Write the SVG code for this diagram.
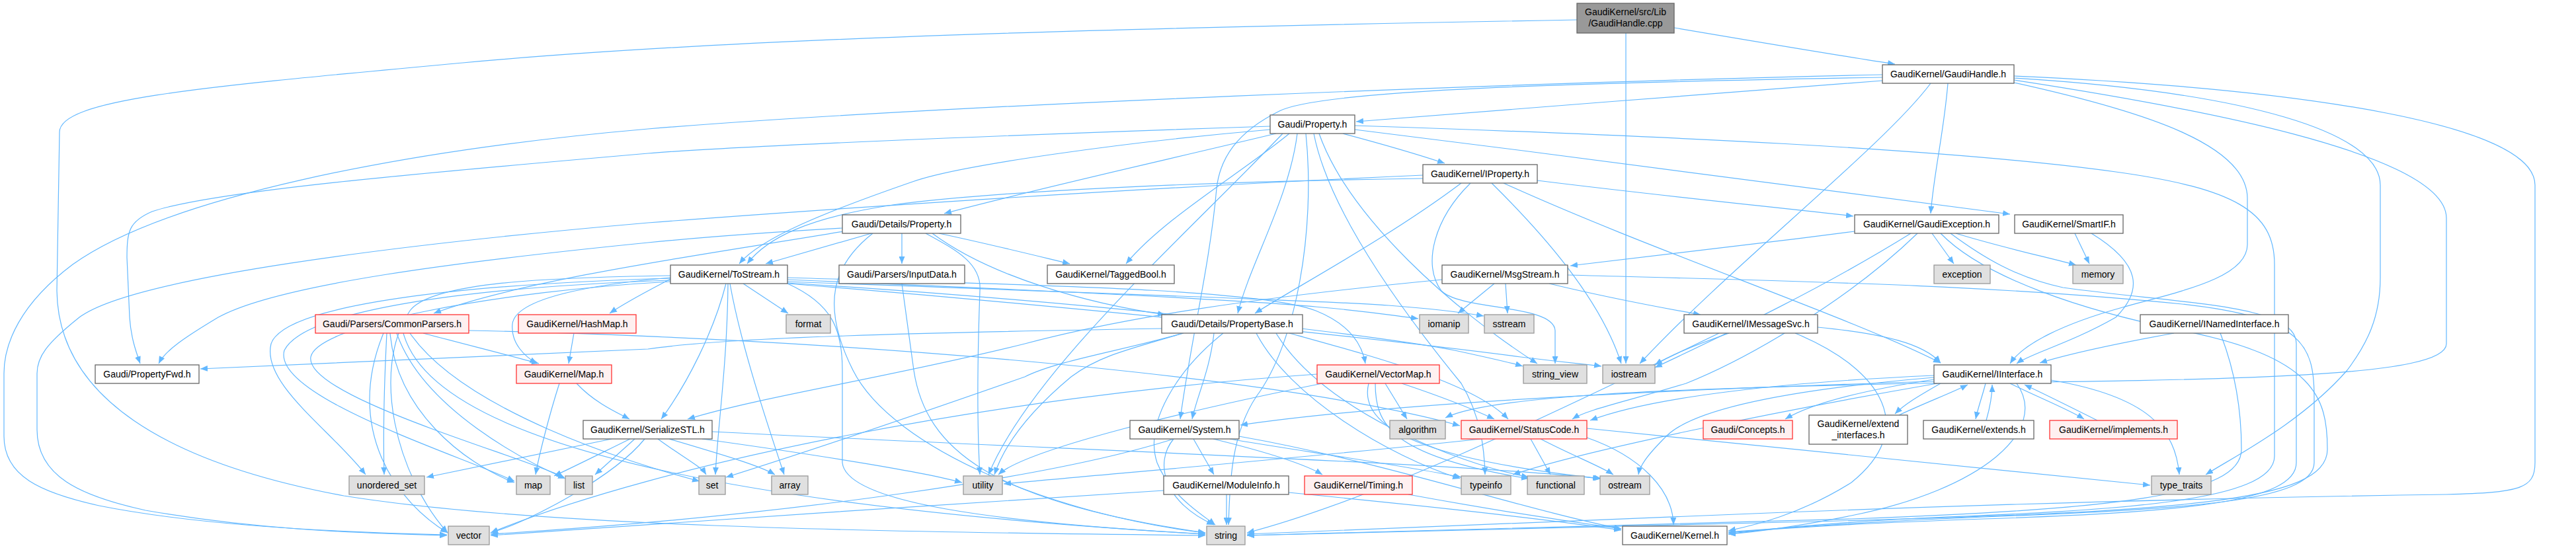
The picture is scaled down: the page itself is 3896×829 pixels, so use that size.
<svg xmlns="http://www.w3.org/2000/svg" width="3896" height="829" viewBox="0 0 3896 829">
<style>
.n rect{fill:#fff;stroke:#666;stroke-width:1.3}
.r rect{fill:#fff0f0;stroke:#f33;stroke-width:1.3}
.s rect{fill:#e0e0e0;stroke:#999;stroke-width:1.3}
.root rect{fill:#999;stroke:#666;stroke-width:1.3}
text{font-family:"Liberation Sans",Arial,sans-serif;font-size:14px;text-anchor:middle;fill:#000}
#edges path{fill:none;stroke:#63b8ff;stroke-width:1.2;marker-end:url(#a)}
</style>
<defs>
<marker id="a" markerUnits="userSpaceOnUse" markerWidth="12" markerHeight="9" refX="11" refY="4.5" orient="auto"><path d="M0,0 L11,4.5 L0,9 z" fill="#63b8ff"/></marker>
</defs>
<rect width="3896" height="829" fill="#fff"/>
<g id="edges">
<path d="M2532,42 C2650,62 2780,84 2866,97"/>
<path d="M2459,50 L2459,550"/>
<path d="M2385,30 C1700,42 1100,58 700,95 C300,132 90,150 90,200 L86,440 C88,600 250,700 520,750 C800,795 1300,805 1823,810"/>
<path d="M2847,122 C2600,140 2300,165 2051,184"/>
<path d="M2847,113 C2300,125 1400,160 980,195 C600,228 250,300 110,400 C30,460 6,520 6,565 L6,660 C6,720 60,745 150,765 C300,795 500,805 676,809"/>
<path d="M2847,117 C2400,125 2000,135 1935,168 C1870,200 1845,240 1840,285 C1830,400 1800,520 1785,634"/>
<path d="M2920,126 C2850,220 2620,400 2480,550"/>
<path d="M2946,126 C2940,200 2925,260 2920,323"/>
<path d="M3046,125 C3250,170 3399,220 3399,300 L3399,370 C3399,420 3300,440 3210,465 C3120,490 3060,520 3040,550"/>
<path d="M3046,118 C3400,140 3600,200 3600,280 L3600,420 C3600,480 3580,520 3550,560 C3480,640 3380,690 3336,718"/>
<path d="M3046,115 C3500,135 3834,190 3834,280 L3834,700 C3834,740 3810,745 3700,748 C3400,752 3100,760 2700,775 C2300,790 2000,803 1886,808"/>
<path d="M3046,121 C3300,160 3700,230 3700,330 L3700,520 C3700,570 3400,575 2900,580 C2500,588 2250,600 2186,632"/>
<path d="M2031,202 C2080,215 2140,232 2185,247"/>
<path d="M1930,202 C1750,245 1550,290 1428,323"/>
<path d="M1921,191 C1500,205 1100,222 980,232 C600,265 320,290 230,320 C195,335 192,350 192,390 L196,480 C198,510 205,530 212,550"/>
<path d="M1921,196 C1700,215 1450,250 1380,275 C1250,320 1150,360 1118,399"/>
<path d="M1962,202 C1950,300 1890,400 1872,474"/>
<path d="M1950,202 C1880,260 1760,330 1703,399"/>
<path d="M2049,190 C2500,205 2950,225 3200,260 C3380,285 3440,320 3440,400 L3440,690 C3440,760 3200,772 2900,784 C2750,792 2660,802 2614,808"/>
<path d="M2049,196 C2400,240 2800,290 3040,324"/>
<path d="M1975,202 C1990,350 1960,520 1900,600 C1860,660 1860,740 1858,794"/>
<path d="M1995,202 C2040,330 2200,470 2325,550"/>
<path d="M1987,202 C2010,320 2120,470 2210,580 C2240,630 2245,680 2246,718"/>
<path d="M1940,202 C1800,350 1560,560 1495,718"/>
<path d="M2274,277 C2500,380 2800,480 2935,549"/>
<path d="M2224,277 C2170,330 2150,400 2180,440 C2210,470 2350,460 2352,500 L2352,550"/>
<path d="M2256,277 C2330,350 2420,450 2452,550"/>
<path d="M2210,277 C2100,360 1950,440 1898,474"/>
<path d="M2325,273 C2500,295 2700,315 2803,327"/>
<path d="M2152,265 C1700,285 1200,320 980,337 C600,370 200,420 120,480 C70,520 56,540 56,565 L56,650 C56,720 120,750 220,772 C380,800 520,806 676,810"/>
<path d="M2152,270 C1800,275 1500,290 1350,310 C1220,330 1160,360 1130,399"/>
<path d="M1318,353 L1158,399"/>
<path d="M1364,353 L1364,399"/>
<path d="M1420,353 C1500,370 1580,390 1618,399"/>
<path d="M1410,353 C1500,420 1650,460 1762,476"/>
<path d="M1276,350 C1100,380 800,420 656,474"/>
<path d="M1274,345 C1100,355 1000,365 980,367 C700,395 420,430 330,480 C280,510 250,530 240,550"/>
<path d="M1320,353 C1260,400 1240,460 1290,560 C1350,680 1600,780 1823,806"/>
<path d="M1400,353 C1450,380 1485,400 1482,440 C1478,550 1478,650 1482,718"/>
<path d="M2805,350 C2650,370 2480,390 2375,402"/>
<path d="M2922,353 L2955,399"/>
<path d="M2958,353 C3030,375 3100,390 3140,401"/>
<path d="M2900,353 C2800,450 2650,540 2550,580 C2450,610 2400,620 2378,634"/>
<path d="M2950,353 C3000,390 3050,420 3120,435 C3300,460 3473,460 3473,520 L3473,700 C3473,760 3300,775 3000,785 C2800,792 2680,800 2614,806"/>
<path d="M2890,353 C2750,440 2600,510 2503,556"/>
<path d="M2935,353 C3000,420 3150,470 3300,500 C3500,540 3520,600 3520,680 C3520,760 3300,775 2700,790 C2300,800 2000,806 1886,810"/>
<path d="M3138,353 L3160,399"/>
<path d="M3163,353 C3240,400 3240,440 3200,480 C3130,520 3070,535 3050,550"/>
<path d="M1124,429 L1192,474"/>
<path d="M1014,422 C980,440 950,455 922,474"/>
<path d="M1014,420 C900,430 780,450 775,490 C772,520 795,540 812,550"/>
<path d="M1098,429 C1080,500 1040,580 1000,634"/>
<path d="M1101,429 C1100,550 1085,650 1082,718"/>
<path d="M1104,429 C1120,520 1160,640 1186,718"/>
<path d="M1191,420 C1500,430 1900,435 1990,470 C2040,490 2060,520 2065,550"/>
<path d="M1191,423 C1600,440 1900,455 2000,465 C2080,472 2110,478 2145,482"/>
<path d="M1191,426 C1700,445 2000,455 2100,462 C2180,468 2220,474 2244,478"/>
<path d="M1191,428 C1700,460 2100,510 2200,530 C2260,543 2290,550 2303,554"/>
<path d="M1191,429 C1700,470 2150,520 2300,540 C2380,550 2410,552 2422,554"/>
<path d="M1014,417 C800,420 650,430 620,470 C560,560 600,720 677,806"/>
<path d="M1014,421 C700,430 430,460 410,520 C395,580 500,650 553,718"/>
<path d="M1014,424 C700,435 460,470 430,530 C410,600 700,690 778,728"/>
<path d="M1014,426 C760,440 480,490 470,540 C460,600 790,690 853,722"/>
<path d="M1191,429 C1260,460 1274,500 1274,560 L1274,700 C1280,760 1500,790 1823,808"/>
<path d="M1757,497 C1400,503 1100,510 980,528 C700,540 450,550 303,558"/>
<path d="M1789,504 C1700,530 1600,545 1550,570 C1350,640 1200,690 1098,722"/>
<path d="M1836,504 C1830,560 1810,600 1803,634"/>
<path d="M1850,504 C1780,560 1730,640 1750,700 C1770,750 1820,780 1838,794"/>
<path d="M1790,504 C1700,530 1660,540 1620,570 C1560,620 1520,670 1504,718"/>
<path d="M1950,504 C2080,540 2230,580 2281,634"/>
<path d="M1900,504 C1950,600 2100,690 2208,724"/>
<path d="M1930,504 C2000,620 2200,700 2312,722"/>
<path d="M2343,429 C2430,450 2510,465 2572,476"/>
<path d="M2260,429 L2205,474"/>
<path d="M2277,429 L2280,474"/>
<path d="M2181,423 C1900,450 1700,480 1550,520 C1350,570 1150,600 1040,634"/>
<path d="M2371,416 C2700,425 3000,430 3300,460 C3480,480 3500,520 3500,600 L3500,700 C3500,760 3300,770 3000,782 C2800,790 2680,800 2614,805"/>
<path d="M2615,504 C2570,520 2530,535 2503,552"/>
<path d="M2749,495 C2850,505 2910,520 2935,549"/>
<path d="M2715,504 C2850,560 2900,650 2800,730 C2720,780 2650,795 2614,803"/>
<path d="M2600,504 C2400,600 2100,750 1886,806"/>
<path d="M3288,504 C3200,520 3130,535 3085,549"/>
<path d="M3358,504 C3380,560 3390,620 3390,680 C3390,750 3200,770 2800,785 C2300,800 2000,806 1886,810"/>
<path d="M3003,580 C2998,600 2992,615 2988,634"/>
<path d="M3004,636 C3010,615 3013,600 3013,582"/>
<path d="M3040,580 C3080,600 3130,620 3152,634"/>
<path d="M3172,636 C3130,615 3090,595 3062,582"/>
<path d="M2935,580 C2900,600 2880,612 2866,626"/>
<path d="M2872,628 C2910,610 2950,595 2976,582"/>
<path d="M2925,574 C2820,590 2740,610 2700,634"/>
<path d="M2925,568 C2700,578 2500,600 2405,636"/>
<path d="M2925,571 C2700,590 2560,620 2520,660 C2490,690 2480,705 2478,718"/>
<path d="M2930,580 C2700,620 2400,680 2288,718"/>
<path d="M3102,575 C3250,600 3290,650 3296,718"/>
<path d="M3050,580 C3100,650 3000,740 2800,780 C2700,800 2650,805 2614,808"/>
<path d="M2925,577 C2500,590 2100,610 1876,643"/>
<path d="M2400,662 C2480,690 2530,740 2531,794"/>
<path d="M2315,664 L2345,718"/>
<path d="M2330,664 C2380,690 2420,705 2440,718"/>
<path d="M2400,648 C2800,690 3100,720 3252,734"/>
<path d="M2240,664 C2000,690 1700,715 1518,732"/>
<path d="M1805,664 L1836,718"/>
<path d="M1775,664 C1745,700 1760,760 1836,794"/>
<path d="M1775,664 C1600,720 1200,780 742,808"/>
<path d="M1835,664 C1900,680 1970,700 2000,718"/>
<path d="M1860,664 C1950,680 2100,700 2210,722"/>
<path d="M1874,660 C2100,700 2300,770 2452,800"/>
<path d="M1855,748 L1855,794"/>
<path d="M1760,742 C1500,760 1000,790 742,810"/>
<path d="M1949,745 C2100,760 2300,780 2452,802"/>
<path d="M2130,748 C2250,770 2380,790 2452,800"/>
<path d="M2095,580 L2128,634"/>
<path d="M2120,580 C2180,600 2230,620 2260,634"/>
<path d="M2080,580 C2080,640 2100,690 2312,724"/>
<path d="M2070,580 C2050,660 2200,700 2422,724"/>
<path d="M2000,580 C1800,620 1550,680 1510,718"/>
<path d="M1992,566 C1500,600 1000,700 742,806"/>
<path d="M925,664 C800,690 700,710 645,722"/>
<path d="M953,664 C900,690 860,710 838,720"/>
<path d="M960,664 L900,718"/>
<path d="M975,664 C930,720 800,790 742,806"/>
<path d="M995,664 C1030,690 1060,705 1068,718"/>
<path d="M1012,664 C1100,690 1150,705 1172,718"/>
<path d="M1062,664 C1250,690 1400,715 1455,730"/>
<path d="M1077,653 C1600,680 2200,700 2420,724"/>
<path d="M640,504 C700,520 780,540 815,550"/>
<path d="M709,500 C1200,510 1900,560 2208,644"/>
<path d="M585,504 C580,600 580,680 581,718"/>
<path d="M590,504 C600,620 700,700 778,730"/>
<path d="M600,504 C640,620 800,700 855,724"/>
<path d="M620,504 C700,620 950,700 1058,728"/>
<path d="M580,504 C520,650 600,760 677,806"/>
<path d="M610,504 C650,650 1000,760 1823,808"/>
<path d="M868,504 L860,550"/>
<path d="M846,580 C830,630 815,690 810,718"/>
<path d="M872,580 C900,610 935,625 952,634"/>
<path d="M1364,429 L1382,560 C1400,680 1500,760 1823,806"/>
</g>
<g id="n_cpp" class="root"><rect x="2385" y="5" width="147" height="45"/><text x="2458.5" y="23">GaudiKernel/src/Lib</text><text x="2458.5" y="40">/GaudiHandle.cpp</text></g>
<g id="n_gh" class="n"><rect x="2847" y="98" width="199" height="28"/><text x="2946.5" y="117">GaudiKernel/GaudiHandle.h</text></g>
<g id="n_prop" class="n"><rect x="1921" y="174" width="128" height="28"/><text x="1985" y="193">Gaudi/Property.h</text></g>
<g id="n_iprop" class="n"><rect x="2152" y="249" width="173" height="28"/><text x="2238.5" y="268">GaudiKernel/IProperty.h</text></g>
<g id="n_dprop" class="n"><rect x="1274" y="325" width="179" height="28"/><text x="1363.5" y="344">Gaudi/Details/Property.h</text></g>
<g id="n_gexc" class="n"><rect x="2805" y="325" width="218" height="28"/><text x="2914" y="344">GaudiKernel/GaudiException.h</text></g>
<g id="n_smartif" class="n"><rect x="3047" y="325" width="164" height="28"/><text x="3129" y="344">GaudiKernel/SmartIF.h</text></g>
<g id="n_tostream" class="n"><rect x="1014" y="401" width="177" height="28"/><text x="1102.5" y="420">GaudiKernel/ToStream.h</text></g>
<g id="n_input" class="n"><rect x="1269" y="401" width="190" height="28"/><text x="1364" y="420">Gaudi/Parsers/InputData.h</text></g>
<g id="n_tagged" class="n"><rect x="1584" y="401" width="192" height="28"/><text x="1680" y="420">GaudiKernel/TaggedBool.h</text></g>
<g id="n_msg" class="n"><rect x="2181" y="401" width="190" height="28"/><text x="2276" y="420">GaudiKernel/MsgStream.h</text></g>
<g id="n_exception" class="s"><rect x="2925" y="401" width="85" height="28"/><text x="2967.5" y="420">exception</text></g>
<g id="n_memory" class="s"><rect x="3135" y="401" width="76" height="28"/><text x="3173" y="420">memory</text></g>
<g id="n_common" class="r"><rect x="477" y="476" width="232" height="28"/><text x="593" y="495">Gaudi/Parsers/CommonParsers.h</text></g>
<g id="n_hashmap" class="r"><rect x="784" y="476" width="178" height="28"/><text x="873" y="495">GaudiKernel/HashMap.h</text></g>
<g id="n_format" class="s"><rect x="1189" y="476" width="67" height="28"/><text x="1222.5" y="495">format</text></g>
<g id="n_pbase" class="n"><rect x="1757" y="476" width="213" height="28"/><text x="1863.5" y="495">Gaudi/Details/PropertyBase.h</text></g>
<g id="n_iomanip" class="s"><rect x="2147" y="476" width="74" height="28"/><text x="2184" y="495">iomanip</text></g>
<g id="n_sstream" class="s"><rect x="2245" y="476" width="75" height="28"/><text x="2282.5" y="495">sstream</text></g>
<g id="n_imsg" class="n"><rect x="2547" y="476" width="202" height="28"/><text x="2648" y="495">GaudiKernel/IMessageSvc.h</text></g>
<g id="n_inamed" class="n"><rect x="3237" y="476" width="224" height="28"/><text x="3349" y="495">GaudiKernel/INamedInterface.h</text></g>
<g id="n_pfwd" class="n"><rect x="144" y="552" width="157" height="28"/><text x="222.5" y="571">Gaudi/PropertyFwd.h</text></g>
<g id="n_maph" class="r"><rect x="781" y="552" width="144" height="28"/><text x="853" y="571">GaudiKernel/Map.h</text></g>
<g id="n_vmap" class="r"><rect x="1992" y="552" width="185" height="28"/><text x="2084.5" y="571">GaudiKernel/VectorMap.h</text></g>
<g id="n_sv" class="s"><rect x="2304" y="552" width="96" height="28"/><text x="2352" y="571">string_view</text></g>
<g id="n_iostream" class="s"><rect x="2424" y="552" width="79" height="28"/><text x="2463.5" y="571">iostream</text></g>
<g id="n_iif" class="n"><rect x="2925" y="552" width="177" height="28"/><text x="3013.5" y="571">GaudiKernel/IInterface.h</text></g>
<g id="n_sstl" class="n"><rect x="882" y="636" width="195" height="28"/><text x="979.5" y="655">GaudiKernel/SerializeSTL.h</text></g>
<g id="n_system" class="n"><rect x="1709" y="636" width="165" height="28"/><text x="1791.5" y="655">GaudiKernel/System.h</text></g>
<g id="n_algo" class="s"><rect x="2102" y="636" width="84" height="28"/><text x="2144" y="655">algorithm</text></g>
<g id="n_status" class="r"><rect x="2210" y="636" width="190" height="28"/><text x="2305" y="655">GaudiKernel/StatusCode.h</text></g>
<g id="n_concepts" class="r"><rect x="2576" y="636" width="135" height="28"/><text x="2643.5" y="655">Gaudi/Concepts.h</text></g>
<g id="n_extif" class="n"><rect x="2736" y="628" width="149" height="44"/><text x="2810.5" y="646">GaudiKernel/extend</text><text x="2810.5" y="663">_interfaces.h</text></g>
<g id="n_extends" class="n"><rect x="2909" y="636" width="167" height="28"/><text x="2992.5" y="655">GaudiKernel/extends.h</text></g>
<g id="n_impl" class="r"><rect x="3100" y="636" width="193" height="28"/><text x="3196.5" y="655">GaudiKernel/implements.h</text></g>
<g id="n_uset" class="s"><rect x="528" y="720" width="114" height="28"/><text x="585" y="739">unordered_set</text></g>
<g id="n_map" class="s"><rect x="781" y="720" width="51" height="28"/><text x="806.5" y="739">map</text></g>
<g id="n_list" class="s"><rect x="855" y="720" width="41" height="28"/><text x="875.5" y="739">list</text></g>
<g id="n_set" class="s"><rect x="1057" y="720" width="40" height="28"/><text x="1077" y="739">set</text></g>
<g id="n_array" class="s"><rect x="1167" y="720" width="55" height="28"/><text x="1194.5" y="739">array</text></g>
<g id="n_utility" class="s"><rect x="1457" y="720" width="59" height="28"/><text x="1486.5" y="739">utility</text></g>
<g id="n_modinfo" class="n"><rect x="1760" y="720" width="189" height="28"/><text x="1854.5" y="739">GaudiKernel/ModuleInfo.h</text></g>
<g id="n_timing" class="r"><rect x="1973" y="720" width="163" height="28"/><text x="2054.5" y="739">GaudiKernel/Timing.h</text></g>
<g id="n_typeinfo" class="s"><rect x="2210" y="720" width="75" height="28"/><text x="2247.5" y="739">typeinfo</text></g>
<g id="n_functional" class="s"><rect x="2310" y="720" width="86" height="28"/><text x="2353" y="739">functional</text></g>
<g id="n_ostream" class="s"><rect x="2420" y="720" width="75" height="28"/><text x="2457.5" y="739">ostream</text></g>
<g id="n_ttraits" class="s"><rect x="3254" y="720" width="90" height="28"/><text x="3299" y="739">type_traits</text></g>
<g id="n_vector" class="s"><rect x="678" y="796" width="62" height="28"/><text x="709" y="815">vector</text></g>
<g id="n_string" class="s"><rect x="1825" y="796" width="58" height="28"/><text x="1854" y="815">string</text></g>
<g id="n_kernel" class="n"><rect x="2454" y="796" width="158" height="28"/><text x="2533" y="815">GaudiKernel/Kernel.h</text></g>
</svg>
